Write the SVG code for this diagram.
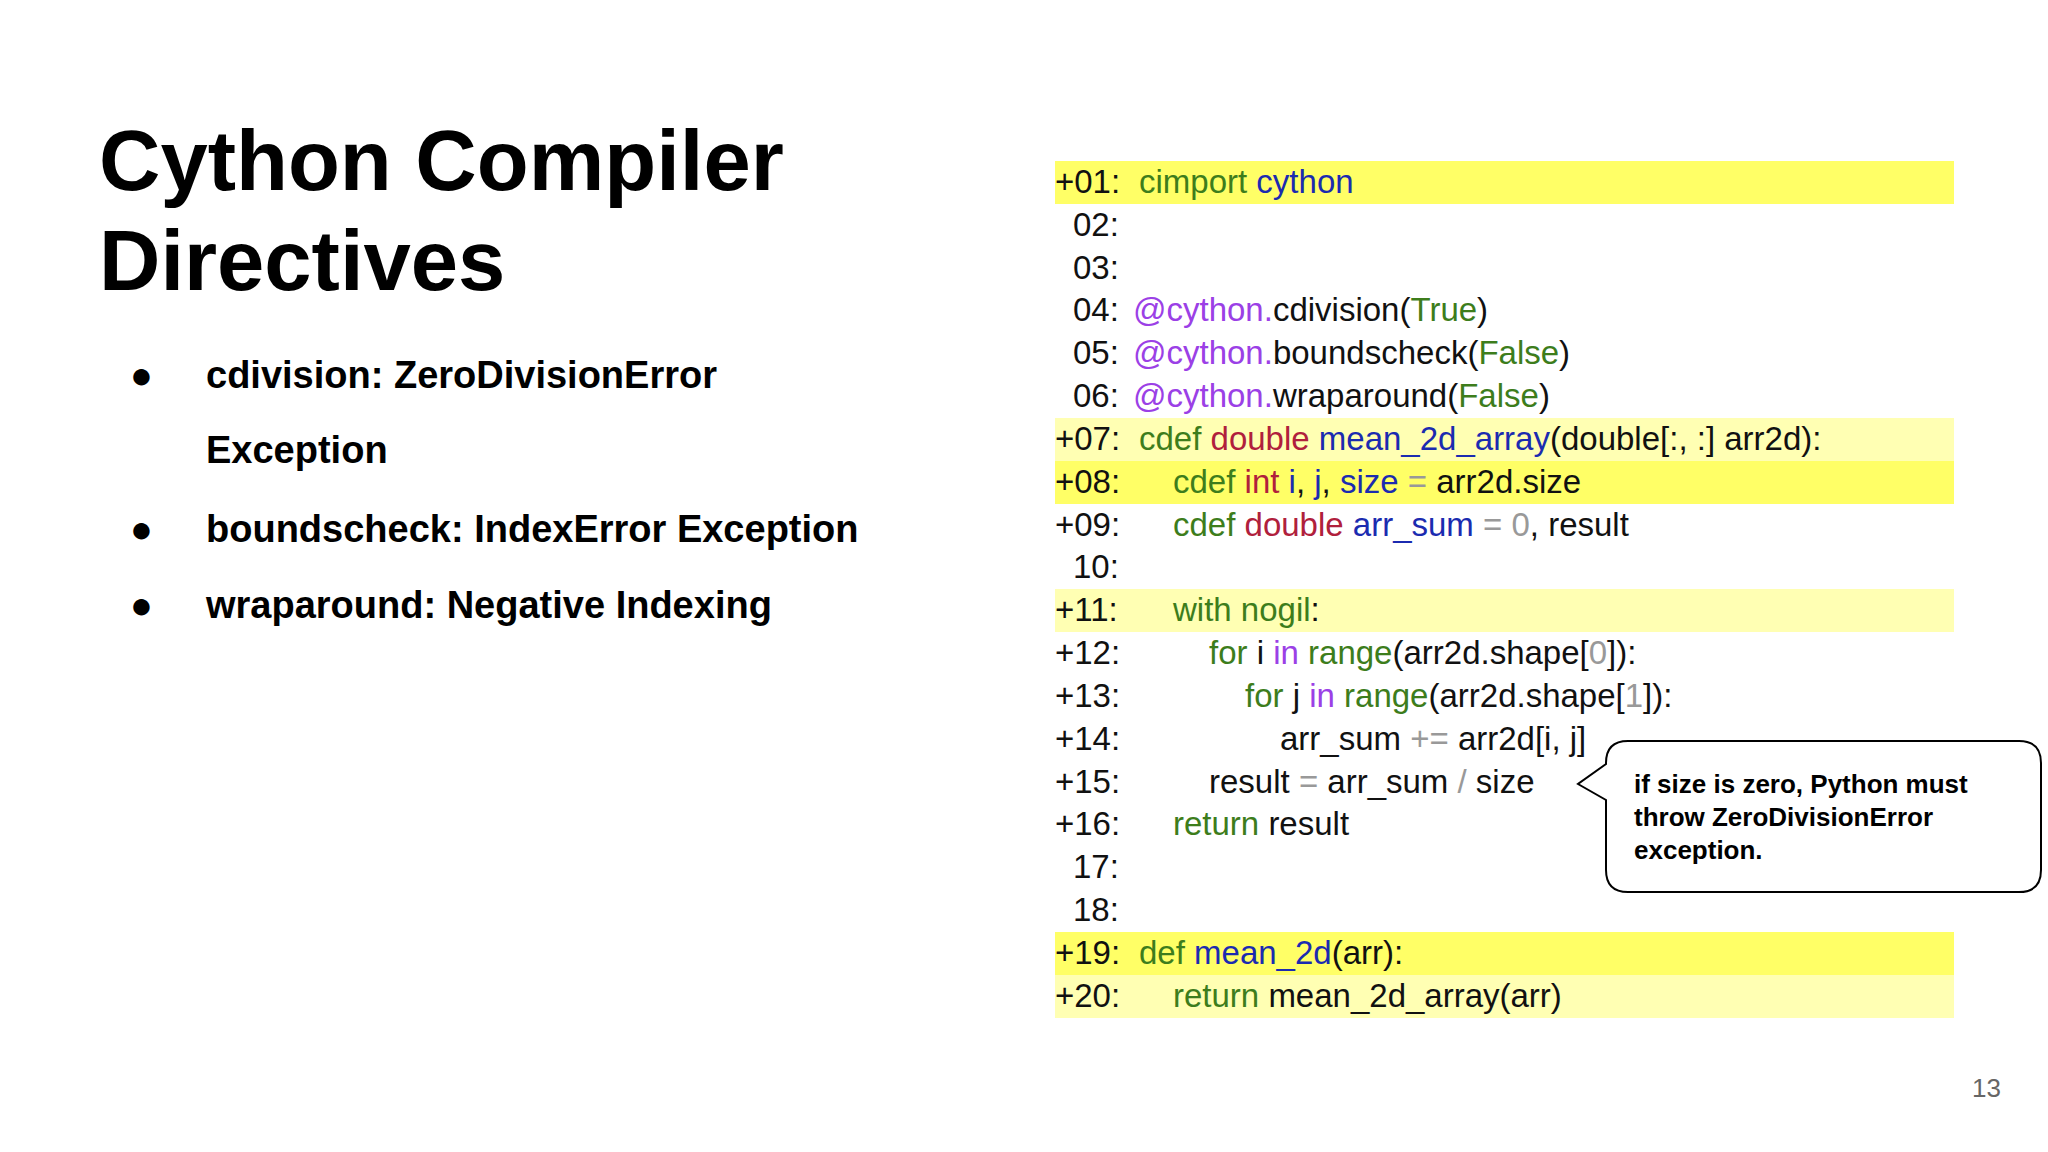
<svg xmlns="http://www.w3.org/2000/svg" width="2048" height="1152" viewBox="0 0 2048 1152">
<style>
.t{font-family:"Liberation Sans",Arial,sans-serif;font-weight:bold;fill:#000}
.c{font-family:"Liberation Sans",Arial,sans-serif;font-size:33px;fill:#111}
.g{fill:#3d7d1c}.b{fill:#1b2bb0}.r{fill:#b0203c}.p{fill:#9b40e6}.y{fill:#999}
.hb{fill:#ffff66}.hp{fill:#ffffb3}
</style>
<rect width="2048" height="1152" fill="#fff"/>
<g id="title"><text class="t" x="99" y="190" font-size="85">Cython Compiler</text><text class="t" x="99" y="290" font-size="85">Directives</text></g>
<g id="bullets" class="t" font-size="38">
<text x="130" y="388">●</text><text x="206" y="388">cdivision: ZeroDivisionError</text>
<text x="206" y="463">Exception</text>
<text x="130" y="542">●</text><text x="206" y="542">boundscheck: IndexError Exception</text>
<text x="130" y="618">●</text><text x="206" y="618">wraparound: Negative Indexing</text>
</g>
<g id="highlights">
<rect class="hb" x="1055" y="161" width="899" height="43"/>
<rect class="hp" x="1055" y="418" width="899" height="43"/>
<rect class="hb" x="1055" y="461" width="899" height="43"/>
<rect class="hp" x="1055" y="589" width="899" height="43"/>
<rect class="hb" x="1055" y="932" width="899" height="43"/>
<rect class="hp" x="1055" y="975" width="899" height="43"/>
</g>
<g id="code" class="c">
<text x="1055" y="193">+01: <tspan class="g" x="1139">cimport </tspan><tspan class="b">cython</tspan></text>
<text x="1073" y="236">02:</text>
<text x="1073" y="279">03:</text>
<text x="1073" y="321">04: <tspan class="p" x="1133">@cython.</tspan>cdivision(<tspan class="g">True</tspan>)</text>
<text x="1073" y="364">05: <tspan class="p" x="1133">@cython.</tspan>boundscheck(<tspan class="g">False</tspan>)</text>
<text x="1073" y="407">06: <tspan class="p" x="1133">@cython.</tspan>wraparound(<tspan class="g">False</tspan>)</text>
<text x="1055" y="450">+07: <tspan class="g" x="1139">cdef </tspan><tspan class="r">double </tspan><tspan class="b">mean_2d_array</tspan>(double[:, :] arr2d):</text>
<text x="1055" y="493">+08:<tspan class="g" x="1173">cdef </tspan><tspan class="r">int </tspan><tspan class="b">i</tspan>, <tspan class="b">j</tspan>, <tspan class="b">size</tspan> <tspan class="y">=</tspan> arr2d.size</text>
<text x="1055" y="536">+09:<tspan class="g" x="1173">cdef </tspan><tspan class="r">double </tspan><tspan class="b">arr_sum</tspan> <tspan class="y">= 0</tspan>, result</text>
<text x="1073" y="578">10:</text>
<text x="1055" y="621">+11:<tspan class="g" x="1173">with nogil</tspan>:</text>
<text x="1055" y="664">+12:<tspan class="g" x="1209">for </tspan>i <tspan class="p">in </tspan><tspan class="g">range</tspan>(arr2d.shape[<tspan class="y">0</tspan>]):</text>
<text x="1055" y="707">+13:<tspan class="g" x="1245">for </tspan>j <tspan class="p">in </tspan><tspan class="g">range</tspan>(arr2d.shape[<tspan class="y">1</tspan>]):</text>
<text x="1055" y="750">+14:<tspan x="1280">arr_sum </tspan><tspan class="y">+=</tspan> arr2d[i, j]</text>
<text x="1055" y="793">+15:<tspan x="1209">result </tspan><tspan class="y">=</tspan> arr_sum <tspan class="y">/</tspan> size</text>
<text x="1055" y="835">+16:<tspan class="g" x="1173">return </tspan>result</text>
<text x="1073" y="878">17:</text>
<text x="1073" y="921">18:</text>
<text x="1055" y="964">+19: <tspan class="g" x="1139">def </tspan><tspan class="b">mean_2d</tspan>(arr):</text>
<text x="1055" y="1007">+20:<tspan class="g" x="1173">return </tspan>mean_2d_array(arr)</text>
</g>
<g id="callout">
<path d="M1628,741 H2019 Q2041,741 2041,763 V870 Q2041,892 2019,892 H1628 Q1606,892 1606,870 V800 L1578,784 L1606,764 V763 Q1606,741 1628,741 Z" fill="#fff" stroke="#000" stroke-width="2"/>
<g class="t" font-size="26"><text x="1634" y="793">if size is zero, Python must</text><text x="1634" y="826">throw ZeroDivisionError</text><text x="1634" y="859">exception.</text></g>
</g>
<g id="connectors"/>
<text x="1972" y="1097" font-family="Liberation Sans,Arial,sans-serif" font-size="26" fill="#666">13</text>
</svg>
